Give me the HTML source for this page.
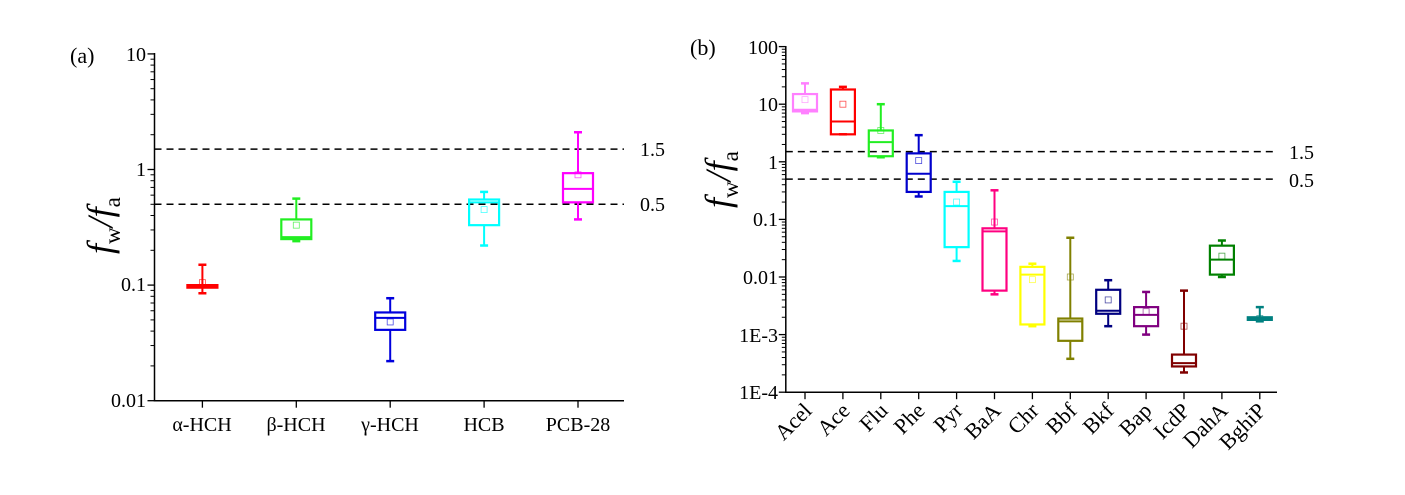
<!DOCTYPE html>
<html><head><meta charset="utf-8"><style>
html,body{margin:0;padding:0;background:#fff;overflow:hidden;}
svg{display:block;font-family:"Liberation Serif",serif;}
</style></head><body>
<svg id="s" width="1405" height="495" viewBox="0 0 1405 495">
<!-- Panel a -->
<text x="70" y="63" font-size="22">(a)</text>
<g font-size="20" text-anchor="end">
<text x="146" y="61">10</text>
<text x="146" y="176">1</text>
<text x="146" y="291">0.1</text>
<text x="146" y="407">0.01</text>
</g>
<text x="640" y="156" font-size="20">1.5</text>
<text x="640" y="211" font-size="20">0.5</text>
<g font-size="20" text-anchor="middle">
<text x="202" y="431">α-HCH</text>
<text x="296" y="431">β-HCH</text>
<text x="390" y="431">γ-HCH</text>
<text x="484" y="431">HCB</text>
<text x="578" y="431">PCB-28</text>
</g>
<text transform="translate(112,254) rotate(-90)" font-size="36" font-style="italic">f<tspan font-size="23" font-style="normal" dy="8">w</tspan><tspan dy="-8">/</tspan>f<tspan font-size="23" font-style="normal" dy="8">a</tspan></text>
<!-- Panel b -->
<text x="690" y="55" font-size="22">(b)</text>
<g font-size="20" text-anchor="end">
<text x="778" y="54">100</text>
<text x="778" y="111">10</text>
<text x="778" y="169">1</text>
<text x="778" y="226">0.1</text>
<text x="778" y="284">0.01</text>
<text x="778" y="342">1E-3</text>
<text x="778" y="399">1E-4</text>
</g>
<text x="1289" y="159" font-size="20">1.5</text>
<text x="1289" y="187" font-size="20">0.5</text>
<text transform="translate(730,208) rotate(-90)" font-size="36" font-style="italic">f<tspan font-size="23" font-style="normal" dy="8">w</tspan><tspan dy="-8">/</tspan>f<tspan font-size="23" font-style="normal" dy="8">a</tspan></text>
<g font-size="22" text-anchor="end">
<text transform="translate(813,412) rotate(-45)">Acel</text>
<text transform="translate(851,412) rotate(-45)">Ace</text>
<text transform="translate(889,412) rotate(-45)">Flu</text>
<text transform="translate(926,412) rotate(-45)">Phe</text>
<text transform="translate(964,412) rotate(-45)">Pyr</text>
<text transform="translate(1002,412) rotate(-45)">BaA</text>
<text transform="translate(1040,412) rotate(-45)">Chr</text>
<text transform="translate(1078,412) rotate(-45)">Bbf</text>
<text transform="translate(1115,412) rotate(-45)">Bkf</text>
<text transform="translate(1153,412) rotate(-45)">Bap</text>
<text transform="translate(1191,412) rotate(-45)">IcdP</text>
<text transform="translate(1229,412) rotate(-45)">DahA</text>
<text transform="translate(1267,412) rotate(-45)">BghiP</text>
</g>
<g id="g"></g>
</svg>
<script>
var g=document.getElementById('g'),h='';
function L(x1,y1,x2,y2,c,w,d){h+='<line x1="'+x1+'" y1="'+y1+'" x2="'+x2+'" y2="'+y2+'" stroke="'+c+'" stroke-width="'+(w||1.5)+'"'+(d?' stroke-dasharray="'+d+'"':'')+'/>';}
function panel(P){
 var Y=function(v){return P.y0-(Math.log10(v)-P.lmin)*P.dec;};
 L(P.ax,P.top-1,P.ax,P.y0+0.75,'#000',1.5);L(P.ax-0.75,P.y0,P.right,P.y0,'#000',1.5);
 for(var e=P.lmin;e<=P.lmax;e++){var y=Y(Math.pow(10,e));L(P.ax-7,y,P.ax,y,'#000',1.3);
  if(e<P.lmax)for(var k=2;k<10;k++){var yy=Y(k*Math.pow(10,e));L(P.ax-4,yy,P.ax,yy,'#000',1);}}
 [1.5,0.5].forEach(function(v){L(P.ax,Y(v),P.right,Y(v),'#000',1.5,'7,5');});
 P.d.forEach(function(b,i){var x=P.x0+i*P.sp,w=P.bw/2,c=b[0];
  L(x,P.y0,x,P.y0+7,'#000',1.3);
  L(x,Y(b[5]),x,Y(b[4]),c,2);L(x,Y(b[1]),x,Y(b[2]),c,2);
  L(x-4,Y(b[5]),x+4,Y(b[5]),c,2.5);L(x-4,Y(b[1]),x+4,Y(b[1]),c,2.5);
  var y1=Y(b[4]),y2=Y(b[2]);
  h+='<rect x="'+(x-w)+'" y="'+y1+'" width="'+P.bw+'" height="'+Math.max(y2-y1,2)+'" fill="none" stroke="'+c+'" stroke-width="2.2"/>';
  L(x-w,Y(b[3]),x+w,Y(b[3]),c,2);
  var m=Y(b[6]);h+='<rect x="'+(x-3)+'" y="'+(m-3)+'" width="6" height="6" fill="none" stroke="'+c+'" stroke-width="0.8" opacity="0.7"/>';
 });
}
panel({ax:154.5,top:54,y0:400.7,right:624,dec:115.6,lmin:-2,lmax:1,x0:202.4,sp:93.9,bw:30,d:[
 ['#ff0000',0.085,0.095,0.098,0.1,0.15,0.105],
 ['#22ee22',0.24,0.25,0.26,0.37,0.56,0.33],
 ['#0000dd',0.022,0.041,0.052,0.058,0.077,0.048],
 ['#00ffff',0.22,0.33,0.52,0.55,0.64,0.45],
 ['#ff00ff',0.37,0.52,0.68,0.93,2.1,0.9]]});
panel({ax:785.8,top:47,y0:392.2,right:1277,dec:57.6,lmin:-4,lmax:2,x0:805,sp:37.9,bw:24,d:[
 ['#ff80ff',7,7.5,8,15,23,12],
 ['#ff0000',3,3,5,18,20,10],
 ['#22ee22',1.2,1.25,2.2,3.5,10,3.5],
 ['#0000cc',0.25,0.3,0.62,1.4,2.9,1.05],
 ['#00ffff',0.019,0.033,0.17,0.3,0.45,0.2],
 ['#ff0080',0.005,0.0058,0.062,0.07,0.32,0.09],
 ['#ffff00',0.0014,0.0015,0.011,0.015,0.017,0.009],
 ['#808000',0.00038,0.00078,0.0017,0.0019,0.048,0.01],
 ['#000080',0.0014,0.0023,0.0026,0.006,0.0088,0.004],
 ['#800080',0.001,0.0014,0.0022,0.003,0.0055,0.0025],
 ['#800000',0.00022,0.00028,0.00032,0.00045,0.0058,0.0014],
 ['#008000',0.01,0.011,0.02,0.035,0.043,0.023],
 ['#008080',0.0017,0.0018,0.0019,0.002,0.003,0.0019]]});
g.innerHTML=h;
</script>
</body></html>
